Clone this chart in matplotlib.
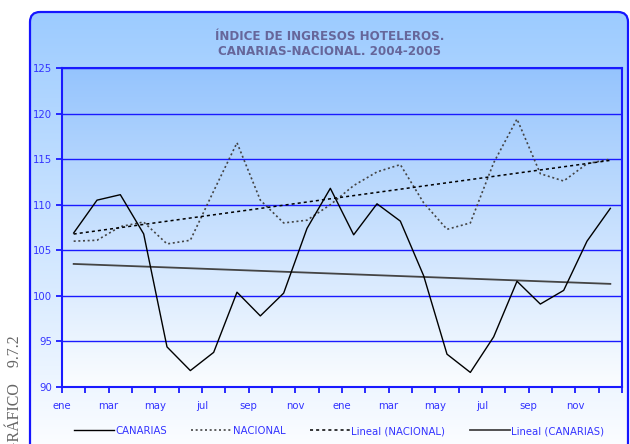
import numpy as np
import matplotlib.pyplot as plt
from matplotlib.patches import FancyBboxPatch
from matplotlib.lines import Line2D

months = ['ene', 'feb', 'mar', 'abr', 'may', 'jun', 'jul', 'ago', 'sep', 'oct', 'nov', 'dic'] * 2
canarias = [106.9, 110.5, 111.1, 106.8, 94.4, 91.8, 93.8, 100.4, 97.8, 100.3, 107.4, 111.8,
            106.7, 110.1, 108.2, 102.2, 93.6, 91.6, 95.5, 101.6, 99.1, 100.6, 106.0, 109.6]
nacional = [106.0, 106.1, 107.6, 108.1, 105.7, 106.1, 111.5, 116.8, 110.5, 108.0, 108.3, 110.0,
            112.1, 113.6, 114.4, 110.2, 107.3, 108.0, 114.6, 119.4, 113.4, 112.6, 114.5, 115.0]
title = "ÍNDICE DE INGRESOS HOTELEROS.\nCANARIAS-NACIONAL. 2004-2005"
yticks = [90, 95, 100, 105, 110, 115, 120, 125]

W, H = 630, 444
BLUE = '#1a1aff'
TXT = '#3333ff'

fig = plt.figure(figsize=(W / 100, H / 100), dpi=100)

# background axes covering the whole figure (pixel coordinates)
bg = fig.add_axes([0, 0, 1, 1])
bg.set_xlim(0, W)
bg.set_ylim(H, 0)
bg.axis('off')

box = FancyBboxPatch((40, 22), 578, 430, boxstyle='round,pad=10,rounding_size=10',
                     facecolor='none', edgecolor='#1515ff', lw=1.6, zorder=3)
bg.add_patch(box)
grad = np.linspace(0, 1, 256)[:, None]
cmap_bg = plt.matplotlib.colors.LinearSegmentedColormap.from_list('g', ['#9ccbff', '#ffffff'])
im = bg.imshow(grad, extent=(30, 628, 462, 12), cmap=cmap_bg, aspect='auto', zorder=1)
im.set_clip_path(box)

bg.text(330, 44, title, ha='center', va='center', fontsize=8.6, fontweight='bold',
        color='#66669a', linespacing=1.15, zorder=4)
bg.text(15, 335, "GRÁFICO    9.7.2", rotation=90, ha='center', va='top',
        fontsize=11.5, family='Liberation Serif', color='#666666', zorder=4)

# plot area
ax = fig.add_axes([62 / W, (H - 387) / H, 560 / W, 319 / H])
ax.set_zorder(5)
x = np.arange(len(canarias))
cmap_pa = plt.matplotlib.colors.LinearSegmentedColormap.from_list('p', ['#95c4fd', '#fbfdff'])
ax.imshow(grad, extent=(-0.5, 23.5, 90, 125), cmap=cmap_pa, aspect='auto', zorder=0,
          origin='upper')
ax.set_xlim(-0.5, 23.5)
ax.set_ylim(90, 125)

for v in yticks[1:]:
    ax.axhline(v, color=BLUE, lw=1.0, zorder=1)

# trend lines from least squares fit
pn = np.polyfit(x, nacional, 1)
pc = np.polyfit(x, canarias, 1)

ax.plot(x, canarias, color='black', lw=1.0, zorder=4)
ax.plot(x, nacional, color='#444444', lw=1.2, ls=(0, (1.2, 1.6)), zorder=3)
ax.plot(x, np.polyval(pn, x), color='black', lw=1.1, ls=(0, (2, 2)), zorder=3)
ax.plot(x, np.polyval(pc, x), color='#444444', lw=1.3, zorder=3)

ax.set_yticks(yticks)
ax.set_yticklabels([str(v) for v in yticks])
xt = np.arange(-0.5, 24, 1)
xl = [months[int(k + 0.5)] if int(k + 0.5) % 2 == 0 and k < 23 else '' for k in xt]
ax.set_xticks(xt)
ax.set_xticklabels(xl)
ax.tick_params(axis='both', colors=BLUE, labelcolor=TXT, labelsize=7.3, width=1.3, length=4,
               direction='out')
ax.tick_params(axis='x', pad=6)
ax.tick_params(axis='y', pad=3)
for s in ax.spines.values():
    s.set_color(BLUE)
    s.set_linewidth(1.5)

handles = [
    Line2D([], [], color='black', lw=1.0),
    Line2D([], [], color='#444444', lw=1.2, ls=(0, (1.2, 1.6))),
    Line2D([], [], color='black', lw=1.1, ls=(0, (2, 2))),
    Line2D([], [], color='#444444', lw=1.3),
]
labels = ['CANARIAS', 'NACIONAL', 'Lineal (NACIONAL)', 'Lineal (CANARIAS)']
leg = fig.legend(handles, labels, loc='center', bbox_to_anchor=(339 / W, 13 / H), ncol=4,
                 frameon=False, fontsize=7.3, handlelength=4.0, handletextpad=0.1,
                 columnspacing=2.4, labelcolor=TXT)
leg.set_zorder(6)

fig.savefig('out.png', dpi=100)
